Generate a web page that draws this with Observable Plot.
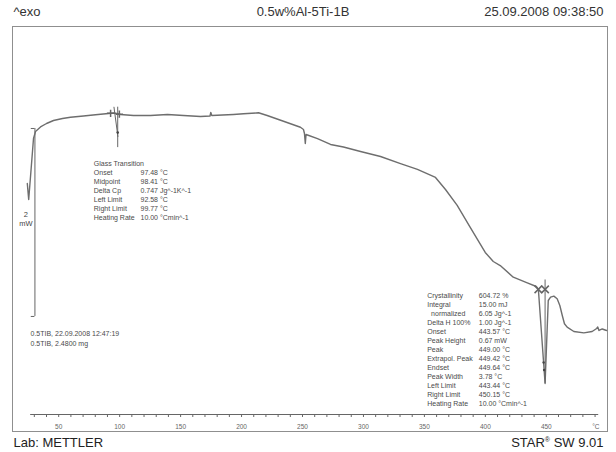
<!DOCTYPE html>
<html>
<head>
<meta charset="utf-8">
<script src="https://cdn.jsdelivr.net/npm/d3@7"></script>
<script src="https://cdn.jsdelivr.net/npm/@observablehq/plot@0.6"></script>
<style>
  html, body { margin: 0; padding: 0; background: #fff; }
</style>
</head>
<body>
<div id="chart"></div>
<script>
// DSC heating run, sample 0.5TIB (0.5w%Al-5Ti-1B), heat flow in mW against sample temperature in °C
const temperature = [
  24.24, 25.39, 27.27, 29.33, 30.97, 35.07, 40.0, 45.73, 53.12, 59.68,
  70.34, 80.19, 90.85, 95.77, 100.69, 111.35, 125.30, 139.25, 152.38, 166.32,
  174.12, 174.77, 175.6, 184.37, 193.40, 201.6, 213.9, 221.0, 234.4, 248.3,
  250.8, 251.6, 252.3, 252.9, 254.1, 262.3, 273.0, 283.6, 297.6, 314.0,
  330.4, 344.3, 359.1, 367.3, 376.9, 387.6, 399.9, 406.5, 412.2, 422.9,
  434.4, 441.8, 443.5, 449.0, 451.6, 453.5, 456.2, 458.9, 461.1, 463.1,
  464.9, 467.1, 472.6, 480.8, 487.6, 491.3, 492.2, 493.2, 495.9, 499.4
];
const heatFlow = [
  1.245, 1.074, 1.383, 1.723, 1.798, 1.846, 1.883, 1.915, 1.936, 1.950,
  1.963, 1.976, 1.989, 1.995, 1.979, 1.968, 1.968, 1.979, 1.968, 1.957,
  1.963, 2.0, 1.968, 1.973, 1.979, 1.986, 1.997, 1.968, 1.907, 1.843,
  1.819, 1.777, 1.670, 1.766, 1.761, 1.723, 1.660, 1.633, 1.585, 1.532,
  1.457, 1.394, 1.309, 1.181, 1.011, 0.777, 0.511, 0.415, 0.372, 0.248,
  0.188, 0.149, 0.117, -0.883, 0.0, 0.035, 0.046, 0.018, -0.053, -0.160,
  -0.248, -0.284, -0.330, -0.344, -0.330, -0.298, -0.282, -0.319, -0.303, -0.319
];

// temperature axis
const axisTicks = d3.range(30, 491, 10);
const axisLabels = [50, 100, 150, 200, 250, 300, 350, 400, 450];
const measuredRange = [27, 493];
const xDomain = [12.1, 500.2];
const yDomain = [-1.213, 2.915];

// heat-flow scale bar (2 mW)
const scaleBarTemp = 30.5;
const scaleBarRange = [-0.17, 1.83];

// glass transition evaluation
const tgOnset = 97.48;
const tgMidpoint = 98.41;
const tgLimits = [92.58, 99.77];
const tgDeltaCp = 0.747;

// peak evaluation
const peakOnset = 443.57;
const peakTemperature = 449.00;
const peakLimits = [443.44, 450.15];
const peakWidthMarks = [[447.8, -0.66], [448.2, -0.74]];

const header = ["^exo", "0.5w%Al-5Ti-1B", "25.09.2008 09:38:50"];
const footer = ["Lab: METTLER", "STAR® SW 9.01"];
const sampleInfo = ["0.5TIB, 22.09.2008 12:47:19", "0.5TIB, 2.4800 mg"];

const glassLabels = ["Glass Transition", "Onset", "Midpoint", "Delta Cp", "Left Limit", "Right Limit", "Heating Rate"];
const glassValues = [
  "",
  `${tgOnset.toFixed(2)} °C`,
  `${tgMidpoint.toFixed(2)} °C`,
  `${tgDeltaCp.toFixed(3)} Jg^-1K^-1`,
  `${tgLimits[0].toFixed(2)} °C`,
  `${tgLimits[1].toFixed(2)} °C`,
  "10.00 °Cmin^-1"
];
const peakLabels = ["Crystallinity", "Integral", "\u00a0\u00a0normalized", "Delta H 100%", "Onset", "Peak Height",
  "Peak", "Extrapol. Peak", "Endset", "Peak Width", "Left Limit", "Right Limit", "Heating Rate"];
const peakValues = [
  "604.72 %", "15.00 mJ", "6.05 Jg^-1", "1.00 Jg^-1",
  `${peakOnset.toFixed(2)} °C`, "0.67 mW", `${peakTemperature.toFixed(2)} °C`,
  "449.42 °C", "449.64 °C", "3.78 °C",
  `${peakLimits[0].toFixed(2)} °C`, `${peakLimits[1].toFixed(2)} °C`, "10.00 °Cmin^-1"
];

const curve = temperature.map((t, i) => ({t, q: heatFlow[i]}));
const bisect = d3.bisector(d => d.t).right;
function heatAt(t) {
  const i = Math.min(Math.max(bisect(curve, t), 1), curve.length - 1);
  const a = curve[i - 1], b = curve[i];
  return a.q + (b.q - a.q) * (t - a.t) / (b.t - a.t);
}

const tgQ = heatAt(tgMidpoint);
const baseQ = heatAt(peakLimits[0]);
const lineColor = "#6e6e6e";
const markColor = "#666";
const textColor = "#4a4a4a";

const small = {fontSize: 7, fill: textColor, textAnchor: "start", lineAnchor: "top", frameAnchor: "top-left", lineHeight: 9 / 7};

const chart = Plot.plot({
  width: 616,
  height: 452,
  marginTop: 26,
  marginLeft: 12,
  marginRight: 9,
  marginBottom: 38,
  x: {domain: xDomain},
  y: {domain: yDomain, axis: null},
  style: {fontFamily: "'Liberation Sans', Arial, sans-serif", background: "#fff", color: "#333"},
  marks: [
    Plot.frame({stroke: "#8f8f8f", insetBottom: -17}),
    Plot.ruleY([yDomain[0]], {x1: measuredRange[0], x2: measuredRange[1], stroke: markColor}),
    Plot.axisX({
      ticks: axisTicks, tickSize: 3, tickPadding: 7, fontSize: 6.5, label: null,
      tickFormat: d => axisLabels.includes(d) ? String(d) : "", color: "#666"
    }),
    Plot.text(["°C"], {text: d => d, frameAnchor: "bottom-right", dx: -8, dy: 10, lineAnchor: "top", fontSize: 6.5, fill: "#666"}),

    // scale bar
    Plot.ruleX([scaleBarTemp], {y1: scaleBarRange[0], y2: scaleBarRange[1], stroke: markColor}),
    Plot.ruleY(scaleBarRange, {x1: scaleBarTemp - 3, x2: scaleBarTemp, stroke: markColor}),
    Plot.text([{t: scaleBarTemp, q: d3.mean(scaleBarRange), label: `${scaleBarRange[1] - scaleBarRange[0]}\nmW`}],
      {x: "t", y: "q", text: "label", dx: -9, dy: -4, fontSize: 7.5, lineHeight: 1.3, fill: "#444"}),

    // measured curve
    Plot.line(curve, {x: "t", y: "q", stroke: lineColor, strokeWidth: 1.4}),

    // glass transition construction
    Plot.ruleX([tgMidpoint], {y1: tgQ - 0.36, y2: tgQ + 0.07, stroke: markColor}),
    Plot.link([{x1: tgMidpoint - 3.1, y1: tgQ + 0.074, x2: tgMidpoint + 0.2, y2: tgQ - 0.246}],
      {x1: "x1", y1: "y1", x2: "x2", y2: "y2", stroke: markColor}),
    Plot.dot([{t: tgMidpoint, q: tgQ - 0.2}], {x: "t", y: "q", r: 1.3, fill: "#444"}),
    Plot.dot(tgLimits.map(t => ({t, q: heatAt(t)})), {x: "t", y: "q", symbol: "plus", r: 2.5, stroke: markColor}),

    // peak construction
    Plot.ruleX([peakTemperature], {y1: heatAt(peakTemperature), y2: baseQ + 0.1, stroke: markColor}),
    Plot.dot([{t: peakLimits[0], q: baseQ}, {t: peakTemperature, q: baseQ}],
      {x: "t", y: "q", symbol: "times", r: 3.5, stroke: markColor}),
    Plot.dot(peakWidthMarks, {x: d => d[0], y: d => d[1], r: 1.2, fill: "#444"}),

    // evaluation tables
    Plot.text([glassLabels.join("\n")], {...small, text: d => d, dx: 81.3, dy: 133}),
    Plot.text([glassValues.join("\n")], {...small, text: d => d, dx: 128, dy: 133}),
    Plot.text([peakLabels.join("\n")], {...small, text: d => d, dx: 414.7, dy: 265}),
    Plot.text([peakValues.join("\n")], {...small, text: d => d, dx: 466.3, dy: 265}),
    Plot.text([sampleInfo.join("\n")], {...small, text: d => d, dx: 18, dy: 303, lineHeight: 1.357}),

    // header and footer
    Plot.text([header[0]], {text: d => d, frameAnchor: "top-left", textAnchor: "start", lineAnchor: "bottom", dx: 1, dy: -11, fontSize: 13, fill: "#333"}),
    Plot.text([header[1]], {text: d => d, frameAnchor: "top", lineAnchor: "bottom", dx: -7, dy: -11, fontSize: 13, fill: "#333"}),
    Plot.text([header[2]], {text: d => d, frameAnchor: "top-right", textAnchor: "end", lineAnchor: "bottom", dx: -4, dy: -11, fontSize: 13, fill: "#333"}),
    Plot.text([footer[0]], {text: d => d, frameAnchor: "bottom-left", textAnchor: "start", lineAnchor: "bottom", dx: 1, dy: 32.5, fontSize: 13, fill: "#222"}),
    Plot.text([footer[1]], {text: d => d, frameAnchor: "bottom-right", textAnchor: "end", lineAnchor: "bottom", dx: -4, dy: 32.5, fontSize: 13, fill: "#222"})
  ]
});

// registered-trademark sign as a superscript
d3.select(chart).selectAll("text")
  .filter(function () { return this.textContent === footer[1]; })
  .each(function () {
    const node = d3.select(this);
    const [brand, rest] = footer[1].split("®");
    node.text(null);
    node.append("tspan").text(brand);
    node.append("tspan").attr("font-size", 7).attr("dy", -5).text("®");
    node.append("tspan").attr("dy", 5).text(rest);
  });

document.getElementById("chart").append(chart);
</script>
</body>
</html>
